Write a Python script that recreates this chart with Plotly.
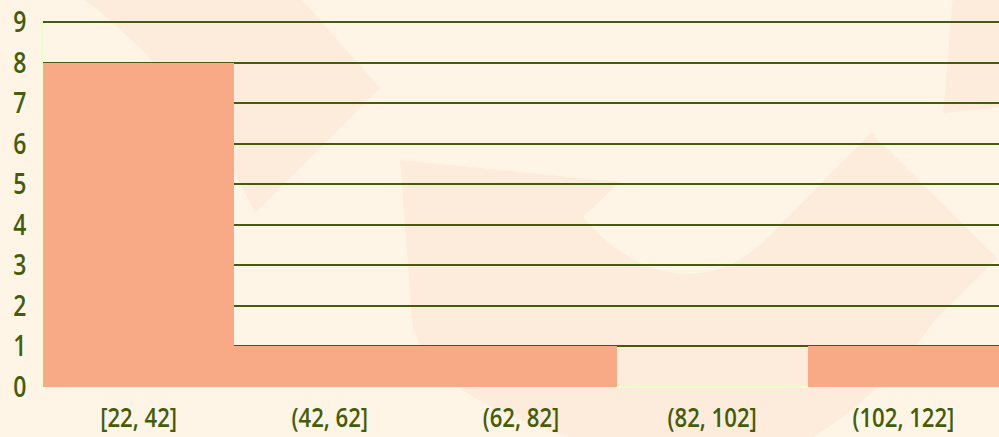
import plotly.graph_objects as go

# ---- data ----
bin_labels = ["[22, 42]", "(42, 62]", "(62, 82]", "(82, 102]", "(102, 122]"]
counts = [8, 1, 1, 0, 1]
y_ticks = [0, 1, 2, 3, 4, 5, 6, 7, 8, 9]

# ---- style ----
BG = "#fff5e6"
WM = "#fdecdc"
BAR = "#f8a985"
INK = "#445c0b"
FONT = "Open Sans, DejaVu Sans Condensed, sans-serif"
SQUEEZE = 0.82  # horizontal condensing of tick labels

W, H = 999, 437
ML, MR, MT, MB = 43, 0, 21, 50
PW, PH = W - ML - MR, H - MT - MB
YMAX = 9.03


def px_path(cmds):
    """Convert a decorative pixel-space path to paper coordinates."""
    out = []
    for c in cmds:
        if isinstance(c, str):
            out.append(c)
        else:
            x, y = c
            out.append(f"{(x - ML) / PW:.5f},{(H - MB - y) / PH:.5f}")
    return " ".join(out)


watermarks = [
    ["M", (78, -5), "Q", (190, 78), (255, 213), "L", (380, 88), "L", (298, -5), "Z"],
    ["M", (400, 160), "L", (620, 182), "L", (583, 217),
     "C", (620, 260), (660, 278), (700, 273),
     "C", (725, 270), (745, 258), (760, 245),
     "L", (871, 133), "L", (997, 258), "L", (935, 320),
     "Q", (880, 400), (800, 445), "L", (600, 445),
     "C", (500, 420), (420, 380), (412, 320), "Z"],
    ["M", (953, -5), "L", (943, 113), "L", (1005, 107), "L", (1005, -5), "Z"],
]

shapes = [
    dict(type="path", path=px_path(p), xref="paper", yref="paper",
         fillcolor=WM, line=dict(width=0), layer="below")
    for p in watermarks
]

tick_font = dict(family=FONT, size=28, color=INK, weight=600)
xtick_font = dict(family=FONT, size=27, color=INK, weight=600)

fig = go.Figure(
    go.Bar(x=bin_labels, y=counts, marker=dict(color=BAR, line=dict(width=0)),
           hoverinfo="x+y")
)

fig.update_layout(
    width=W, height=H,
    margin=dict(l=ML, r=MR, t=MT, b=MB, pad=0, autoexpand=False),
    paper_bgcolor=BG, plot_bgcolor="rgba(0,0,0,0)",
    bargap=0,
    showlegend=False,
    shapes=shapes,
    font=tick_font,
    xaxis=dict(showgrid=False, ticks="", ticklabelstandoff=12, automargin=False,
               showline=False, zeroline=False, tickfont=xtick_font),
    yaxis=dict(range=[0, YMAX], tickvals=y_ticks, ticks="", ticklabelstandoff=9,
               automargin=False,
               showgrid=True, gridcolor=INK, gridwidth=2,
               zeroline=True, zerolinecolor="#edffc8", zerolinewidth=2,
               showline=True, linecolor="#edffc8", linewidth=2,
               tickfont=tick_font),
)

post = """
document.body.style.margin='0';
document.body.style.background='%s';
var gd = document.getElementsByClassName('plotly-graph-div')[0];
function squeeze(){
  gd.querySelectorAll('.xtick text, .ytick text').forEach(function(t){
    if (t.dataset.baseTransform === undefined) {
      t.dataset.baseTransform = t.getAttribute('transform') || '';
    }
    var x = parseFloat(t.getAttribute('x')) || 0;
    t.setAttribute('transform', t.dataset.baseTransform +
      ' translate(' + x + ',0) scale(%s,1) translate(' + (-x) + ',0)');
  });
}
squeeze();
gd.on('plotly_afterplot', function(){
  gd.querySelectorAll('.xtick text, .ytick text').forEach(function(t){ delete t.dataset.baseTransform; });
  squeeze();
});
""" % (BG, SQUEEZE)

fig.write_html("out.html", post_script=post, config={"displayModeBar": False})
